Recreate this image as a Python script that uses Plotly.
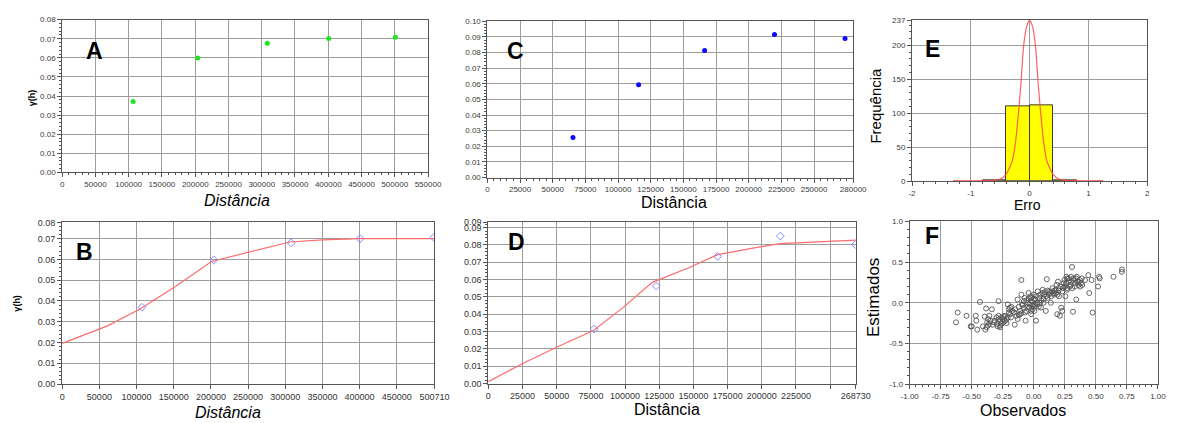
import plotly.graph_objects as go

W, H = 1183, 423

# ---- A: experimental semivariogram, first data set ----
dist_a = [106600, 203800, 308400, 400700, 500900]
gamma_a = [0.0371, 0.0599, 0.0677, 0.0701, 0.0708]
xtick_a = [0, 50000, 100000, 150000, 200000, 250000, 300000, 350000, 400000, 450000, 500000, 550000]
ytick_a = [0.00, 0.01, 0.02, 0.03, 0.04, 0.05, 0.06, 0.07, 0.08]

# ---- B: fitted model, first data set ----
dist_b = [107200, 203800, 307900, 400600, 500000]
gamma_b = [0.0370, 0.0598, 0.0680, 0.0700, 0.0706]
model_x_b = [0, 60170, 104100, 152400, 200700, 253400, 306100, 350000, 400600, 500710]
model_y_b = [0.0196, 0.0279, 0.0360, 0.0470, 0.0590, 0.0637, 0.0684, 0.0694, 0.0700, 0.0700]
xtick_b = [0, 50000, 100000, 150000, 200000, 250000, 300000, 350000, 400000, 450000, 500710]
ytick_b = [0.00, 0.01, 0.02, 0.03, 0.04, 0.05, 0.06, 0.07, 0.0778]
ytext_b = ["0.00", "0.01", "0.02", "0.03", "0.04", "0.05", "0.06", "0.07", "0.08"]

# ---- C: experimental semivariogram, second data set ----
dist_c = [65500, 115750, 166250, 219750, 273750]
gamma_c = [0.0256, 0.0594, 0.0813, 0.0915, 0.0890]
xtick_c = [0, 25000, 50000, 75000, 100000, 125000, 150000, 175000, 200000, 225000, 250000, 280000]
ytick_c = [0.00, 0.01, 0.02, 0.03, 0.04, 0.05, 0.06, 0.07, 0.08, 0.09, 0.10]

# ---- D: fitted model, second data set ----
dist_d = [77400, 122800, 167700, 213600, 268500]
gamma_d = [0.0315, 0.0563, 0.0734, 0.0851, 0.0802]
model_x_d = [0, 24360, 50640, 76900, 98400, 119900, 146200, 167700, 191600, 213100, 268730]
model_y_d = [0.0011, 0.0113, 0.0212, 0.0306, 0.0438, 0.0584, 0.0667, 0.0744, 0.0779, 0.0808, 0.0828]
xtick_d = [0, 25000, 50000, 75000, 100000, 125000, 150000, 175000, 200000, 225000, 268730]
xgrid_d = [250000]
ytick_d = [0.00, 0.01, 0.02, 0.03, 0.04, 0.05, 0.06, 0.07, 0.08, 0.09, 0.0932]
ytext_d = ["0.00", "0.01", "0.02", "0.03", "0.04", "0.05", "0.06", "0.07", "0.08", "0.09", "0.09"]

# ---- E: histogram of cross-validation errors ----
bin_left = [-0.8, -0.4, 0.0, 0.4]
bin_width = 0.4
freq = [1.4, 109.5, 111.8, 1.4]
curve_x = [-1.3, -0.8, -0.6, -0.5, -0.4, -0.3, -0.25, -0.2, -0.15, -0.1, -0.05, 0.0,
           0.05, 0.1, 0.15, 0.2, 0.25, 0.3, 0.4, 0.5, 0.6, 0.8, 1.25]
curve_y = [0.5, 0.5, 1, 3, 10, 28, 50, 90, 140, 200, 228, 237,
           228, 200, 140, 90, 50, 28, 10, 3, 1, 0.5, 0.5]
xtick_e = [-2, -1, 0, 1, 2]
ytick_e = [0, 50, 100, 150, 200, 237]

# ---- F: observed vs. estimated ----
observados = [
    -0.626, -0.613, -0.542, -0.508, -0.500, -0.468, -0.463, -0.455, -0.434, -0.410,
    -0.395, -0.384, -0.390, -0.376, -0.368, -0.358, -0.337, -0.316, -0.297, -0.284,
    -0.284, -0.271, -0.258, -0.245, -0.232, -0.218, -0.210, -0.200, -0.192, -0.184,
    -0.174, -0.153, -0.140, -0.130, -0.113, -0.100, -0.100, -0.095, -0.079, -0.074,
    -0.066, -0.060, -0.047, -0.042, -0.034, -0.026, -0.021, -0.016, -0.008, 0.000,
    0.005, 0.010, 0.018, 0.026, 0.032, 0.045, 0.058, 0.071, 0.079, 0.084,
    0.097, 0.105, 0.110, 0.124, 0.137, 0.150, 0.163, 0.176, 0.184, 0.189,
    0.195, 0.203, 0.210, 0.221, 0.229, 0.237, 0.247, 0.255, 0.263, 0.268,
    0.282, 0.295, 0.308, 0.316, 0.321, 0.334, 0.342, 0.347, 0.360, 0.374,
    0.387, 0.413, 0.439, 0.447, 0.466, 0.474, 0.518, 0.526, 0.532, 0.642,
    0.710, 0.710,
    -0.28, -0.27, -0.26, -0.25, -0.24, -0.23, -0.22, -0.30, -0.32, -0.35,
    -0.37, -0.38, -0.36, -0.33, -0.29, -0.27, -0.20, -0.18, -0.16, -0.15,
    -0.12, -0.11, -0.10, -0.09, -0.08, -0.07, -0.06, -0.05, -0.04, -0.03,
    -0.02, -0.01, 0.00, 0.01, 0.02, 0.03, 0.04, 0.05, 0.06, 0.07,
    0.08, 0.09, 0.10, 0.11, 0.12, 0.13, 0.14, 0.15, 0.16, 0.17,
    0.18, 0.20, 0.22, 0.23, 0.25, 0.26, 0.27, 0.28, 0.29, 0.30,
    0.31, 0.32, 0.33, 0.34, 0.35, 0.36, 0.37, 0.38, 0.39, 0.30,
    0.27, 0.24, 0.20, 0.19, 0.05, 0.00, -0.02, -0.12, -0.13, -0.19,
    -0.21,
]
estimados = [
    -0.24, -0.12, -0.16, -0.29, -0.29, -0.16, -0.22, -0.33, 0.01, -0.29,
    -0.17, -0.07, -0.33, -0.24, -0.20, -0.16, -0.08, -0.22, -0.26, 0.02,
    -0.16, -0.30, -0.18, -0.24, -0.16, -0.20, -0.02, -0.12, -0.06, -0.18,
    -0.10, -0.27, -0.16, 0.04, -0.14, 0.28, 0.10, -0.02, -0.06, 0.06,
    -0.22, -0.10, 0.00, 0.12, -0.06, 0.08, -0.14, 0.02, -0.04, 0.10,
    -0.10, 0.04, -0.22, -0.02, 0.14, 0.06, -0.06, 0.16, 0.00, 0.10,
    -0.10, 0.29, 0.06, 0.14, 0.00, 0.18, 0.10, 0.16, 0.22, -0.14,
    0.26, 0.08, -0.16, -0.06, -0.10, 0.18, 0.28, 0.08, 0.32, 0.16,
    0.30, 0.22, 0.44, -0.11, 0.28, 0.24, 0.04, 0.32, 0.26, 0.20,
    0.30, 0.28, 0.34, 0.12, 0.28, -0.12, 0.20, 0.32, 0.30, 0.32,
    0.41, 0.38,
    -0.20, -0.23, -0.26, -0.20, -0.17, -0.22, -0.25, -0.18, -0.24, -0.22,
    -0.28, -0.30, -0.26, -0.27, -0.29, -0.28, -0.08, -0.05, -0.12, -0.08,
    -0.05, -0.10, -0.13, -0.03, 0.02, -0.12, 0.03, -0.05, 0.05, -0.02,
    0.06, -0.08, 0.05, -0.04, 0.08, 0.00, -0.05, 0.10, 0.03, 0.12,
    0.05, 0.13, 0.08, 0.15, 0.10, 0.12, 0.08, 0.14, 0.12, 0.15,
    0.12, 0.15, 0.20, 0.14, 0.20, 0.24, 0.18, 0.26, 0.20, 0.26,
    0.18, 0.30, 0.20, 0.30, 0.26, 0.22, 0.28, 0.24, 0.22, 0.32,
    0.30, 0.24, 0.18, 0.10, 0.00, -0.02, -0.10, -0.15, -0.20, -0.14,
    -0.18,
]
xtick_f = [-1.0, -0.75, -0.5, -0.25, 0.0, 0.25, 0.5, 0.75, 1.0]
ytick_f = [-1.0, -0.5, 0.0, 0.5, 1.0]


def px(x):
    return x / W


def py(y):
    return 1 - y / H


FONT = "Liberation Sans, Arial, sans-serif"
GRID = "#9c9c9c"
LINE = "#555555"
TICKFONT = dict(family=FONT, size=8, color="#3a3a3a")


def make_axis(domain, rng, tickvals, ticktext, minor_dtick, anchor, font=TICKFONT):
    ax = dict(
        domain=domain, range=rng, anchor=anchor,
        tickmode="array", tickvals=tickvals, ticktext=ticktext,
        showgrid=True, gridcolor=GRID, gridwidth=1,
        zeroline=False, showline=True, linecolor=LINE, linewidth=1, mirror=True,
        ticks="outside", ticklen=4, tickcolor=LINE, tickfont=font,
        fixedrange=True,
    )
    if minor_dtick:
        ax["minor"] = dict(dtick=minor_dtick, tick0=rng[0], ticks="outside",
                           ticklen=2, tickcolor=LINE, showgrid=False)
    return ax


def fmt(vals, f):
    return [format(v, f) for v in vals]


fig = go.Figure()

# A
fig.add_trace(go.Scatter(x=dist_a, y=gamma_a, mode="markers", xaxis="x", yaxis="y",
                         marker=dict(color="#1ee61e", size=5), showlegend=False))
# C
fig.add_trace(go.Scatter(x=dist_c, y=gamma_c, mode="markers", xaxis="x2", yaxis="y2",
                         marker=dict(color="#0a0aff", size=5), showlegend=False))
# E
fig.add_trace(go.Bar(x=bin_left, y=freq, width=bin_width, offset=0, xaxis="x3", yaxis="y3",
                     marker=dict(color="#ffff00", line=dict(color="#3a3a3a", width=1)),
                     showlegend=False))
fig.add_trace(go.Scatter(x=curve_x, y=curve_y, mode="lines", xaxis="x3", yaxis="y3",
                         line=dict(color="rgba(255,70,70,0.85)", width=1.2, shape="spline",
                                   smoothing=0.6),
                         showlegend=False))
# B
fig.add_trace(go.Scatter(x=model_x_b, y=model_y_b, mode="lines", xaxis="x4", yaxis="y4",
                         line=dict(color="#ff6b6b", width=1.2), showlegend=False))
fig.add_trace(go.Scatter(x=dist_b, y=gamma_b, mode="markers", xaxis="x4", yaxis="y4",
                         marker=dict(symbol="diamond-open", color="#8a8aff", size=6,
                                     line=dict(width=1)), showlegend=False))
# D
fig.add_trace(go.Scatter(x=model_x_d, y=model_y_d, mode="lines", xaxis="x5", yaxis="y5",
                         line=dict(color="#ff6b6b", width=1.2), showlegend=False))
fig.add_trace(go.Scatter(x=dist_d, y=gamma_d, mode="markers", xaxis="x5", yaxis="y5",
                         marker=dict(symbol="diamond-open", color="#8a8aff", size=6,
                                     line=dict(width=1)), showlegend=False))
# F
fig.add_trace(go.Scatter(x=observados, y=estimados, mode="markers", xaxis="x6", yaxis="y6",
                         marker=dict(symbol="circle-open", color="#555555", size=5,
                                     line=dict(width=0.9)), showlegend=False))

BIG = dict(family=FONT, size=9, color="#333333")

layout = dict(
    width=W, height=H, margin=dict(l=0, r=0, t=0, b=0),
    paper_bgcolor="white", plot_bgcolor="white", bargap=0,
    xaxis=make_axis([px(54.3), px(427.7)], [0, 550000], xtick_a,
                    [str(v) for v in xtick_a], 10000, "y"),
    yaxis=make_axis([py(171.5), py(15)], [0, 0.08], ytick_a, fmt(ytick_a, ".2f"), 0.002, "x"),
    xaxis2=make_axis([px(488.3), px(861.7)], [0, 280000], xtick_c,
                     [str(v) for v in xtick_c], 5000, "y2"),
    yaxis2=make_axis([py(176.7), py(16.7)], [0, 0.10], ytick_c, fmt(ytick_c, ".2f"), 0.002, "x2"),
    xaxis3=make_axis([px(921.7), px(1161.7)], [-2, 2], xtick_e,
                     [str(v) for v in xtick_e], 0.2, "y3"),
    yaxis3=make_axis([py(180.3), py(15.7)], [0, 237], ytick_e, [str(v) for v in ytick_e], 10, "x3"),
    xaxis4=make_axis([px(54.3), px(434.3)], [0, 500710], xtick_b,
                     [str(v) for v in xtick_b], None, "y4", BIG),
    yaxis4=make_axis([py(388.3), py(222.7)], [0, 0.0778], ytick_b, ytext_b, 0.002, "x4", BIG),
    xaxis5=make_axis([px(489.3), px(864.3)], [0, 268730], xtick_d + xgrid_d,
                     [str(v) for v in xtick_d] + [""], None, "y5", BIG),
    yaxis5=make_axis([py(387.7), py(222.3)], [0, 0.0932], ytick_d, ytext_d, 0.002, "x5", BIG),
    xaxis6=make_axis([px(919.3), px(1172.7)], [-1, 1], xtick_f, fmt(xtick_f, ".2f"), 0.05, "y6"),
    yaxis6=make_axis([py(388.3), py(221.7)], [-1, 1], ytick_f, fmt(ytick_f, ".1f"), 0.1, "x6"),
)

annotations = []


def note(text, x, y, size, bold=False, italic=False, angle=0, color="black"):
    t = text
    if bold:
        t = "<b>" + t + "</b>"
    if italic:
        t = "<i>" + t + "</i>"
    annotations.append(dict(text=t, x=px(x), y=py(y), xref="paper", yref="paper",
                            xanchor="center", yanchor="middle", showarrow=False,
                            textangle=angle, font=dict(family=FONT, size=size, color=color)))


# panel letters
note("A", 87, 47, 23, bold=True)
note("C", 517, 47, 23, bold=True)
note("E", 943, 45, 23, bold=True)
note("B", 77, 253, 23, bold=True)
note("D", 518, 243, 23, bold=True)
note("F", 942, 237, 23, bold=True)

# axis titles
note("Distância", 233, 200, 16, italic=True)
note("Distância", 679, 202, 16)
note("Erro", 1040, 205, 14)
note("Frequência", 885, 103, 15, angle=-90)
note("Distância", 224, 417, 16, italic=True)
note("Distância", 672, 414, 16)
note("Observados", 1035, 415, 16)
note("Estimados", 883, 300, 17, angle=-90)
note("γ(h)", 23, 95, 9, bold=True, angle=-90)
note("γ(h)", 8, 305, 9, bold=True, angle=-90)

layout["annotations"] = annotations
fig.update_layout(**layout)
fig.write_html("out.html")
